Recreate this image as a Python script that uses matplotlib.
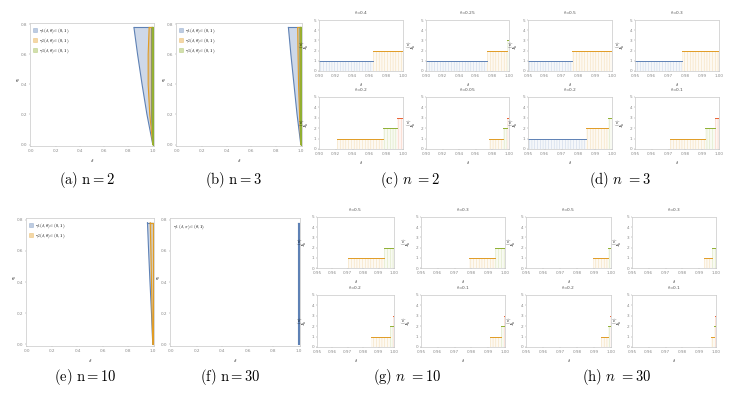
import numpy as np
import matplotlib.pyplot as plt
from matplotlib.patches import Patch

plt.rcParams['mathtext.fontset'] = 'cm'
plt.rcParams['hatch.linewidth'] = 0.3

W, H = 750, 393
BLUE, ORANGE, GREEN, RED = "#5E81B5", "#E19C24", "#8FB032", "#EB6235"
COLS = [BLUE, ORANGE, GREEN, RED]

# region plots (theta values and left/right delta boundaries)
theta_pts = [0.0, 0.2, 0.4, 0.6, 0.78]
a_blue = ([1.0, 0.952, 0.912, 0.875, 0.845], [1.0, 0.99, 0.99, 0.99, 0.99])
a_orange = ([1.0, 0.975, 0.962, 0.962, 0.97], [1.0, 0.995, 0.995, 0.995, 0.995])
a_green = ([1.0, 0.996, 0.996, 0.996, 0.996], [1.0, 1.0, 1.0, 1.0, 1.0])
b_blue = ([1.0, 0.97, 0.945, 0.92, 0.9], [1.0, 0.995, 0.995, 0.995, 0.995])
b_orange = ([1.0, 0.99, 0.982, 0.978, 0.975], [1.0, 0.998, 0.998, 0.998, 0.998])
b_green = ([1.0, 0.997, 0.996, 0.995, 0.995], [1.0, 1.0, 1.0, 1.0, 1.0])
e_blue = ([1.0, 0.99, 0.978, 0.967, 0.958], [1.0, 1.0, 1.0, 1.0, 1.0])
e_orange = ([1.0, 0.995, 0.99, 0.985, 0.98], [1.0, 1.0, 1.0, 1.0, 1.0])
f_blue = ([0.993, 0.993, 0.993, 0.993, 0.993], [1.0, 1.0, 1.0, 1.0, 1.0])

# step plots: theta titles, interval edges, levels, colour index
c_theta = ["0.4", "0.25", "0.2", "0.05"]
c_edges = [[0.90, 0.964, 1.0], [0.90, 0.973, 0.997, 1.0],
           [0.922, 0.976, 0.993, 1.0], [0.976, 0.993, 0.998, 1.0]]
c_levels = [[1, 2], [1, 2, 3], [1, 2, 3], [1, 2, 3]]
c_cols = [[0, 1], [0, 1, 2], [1, 2, 3], [1, 2, 3]]

d_theta = ["0.5", "0.3", "0.2", "0.1"]
d_edges = [[0.95, 0.976, 1.0], [0.95, 0.978, 1.0],
           [0.95, 0.9845, 0.9976, 1.0], [0.9708, 0.9917, 0.9976, 1.0]]
d_levels = [[1, 2], [1, 2], [1, 2, 3], [1, 2, 3]]
d_cols = [[0, 1], [0, 1], [0, 1, 2], [1, 2, 3]]

g_theta = ["0.5", "0.3", "0.2", "0.1"]
g_edges = [[0.97, 0.9935, 1.0], [0.9788, 0.994, 1.0],
           [0.9848, 0.9972, 0.9995, 1.0], [0.9913, 0.9974, 0.9994, 1.0]]
g_levels = [[1, 2], [1, 2], [1, 2, 3], [1, 2, 3]]
g_cols = [[1, 2], [1, 2], [1, 2, 3], [1, 2, 3]]

h_theta = ["0.5", "0.3", "0.2", "0.1"]
h_edges = [[0.9893, 0.998, 1.0], [0.9929, 0.9975, 1.0],
           [0.994, 0.998, 0.9995, 1.0], [0.9969, 0.999, 0.9996, 1.0]]
h_levels = [[1, 2], [1, 2], [1, 2, 3], [1, 2, 3]]
h_cols = [[1, 2], [1, 2], [1, 2, 3], [1, 2, 3]]


def px(l, t, r, b):
    return [l / W, 1 - b / H, (r - l) / W, (b - t) / H]


def frame(ax):
    for s in ax.spines.values():
        s.set_color("#c8c8c8")
        s.set_linewidth(0.5)
    ax.spines['top'].set_linestyle((0, (1, 1)))
    ax.spines['right'].set_linestyle((0, (1, 1)))
    ax.tick_params(labelsize=3, length=1, width=0.3, colors="#888888", pad=1)


def region(ax, bounds, col):
    ax.fill_betweenx(theta_pts, bounds[0], bounds[1], facecolor=col, alpha=0.3, lw=0)
    ax.plot(bounds[0], theta_pts, color=col, lw=0.8)
    ax.plot(bounds[1], theta_pts, color=col, lw=0.8)
    ax.plot([bounds[0][-1], bounds[1][-1]], [theta_pts[-1]] * 2, color=col, lw=0.8)


def big(rect, regs, labels):
    ax = fig.add_axes(px(*rect))
    for bnd, col in regs:
        region(ax, bnd, col)
    ax.set_xlim(-0.01, 1.01)
    ax.set_ylim(-0.01, 0.81)
    ax.set_xticks(np.arange(0, 1.01, 0.2))
    ax.set_yticks(np.arange(0, 0.81, 0.2))
    frame(ax)
    ax.set_xlabel(r"$\delta$", fontsize=3.8, labelpad=3)
    ax.set_ylabel(r"$\theta$", fontsize=3.8, rotation=0, labelpad=1)
    ax.yaxis.set_label_coords(-0.1, 0.5)
    if labels:
        hs = [Patch(facecolor=c, alpha=0.4, edgecolor=c, lw=0.5) for _, c in regs]
        ax.legend(hs, labels, loc="upper left", fontsize=3.3, frameon=False,
                  handlelength=0.8, handleheight=0.8, handletextpad=0.4,
                  labelspacing=0.2, borderaxespad=0.3)
    return ax


def steps(rect, title, edges, levels, cols, xt, xl):
    ax = fig.add_axes(px(*rect))
    for i in range(len(levels)):
        x0, x1, lv, c = edges[i], edges[i + 1], levels[i], COLS[cols[i]]
        ax.fill_between([x0, x1], 0, lv, facecolor="none", edgecolor=c,
                        alpha=0.35, hatch="||||||", lw=0)
        ax.fill_between([x0, x1], 0, lv, facecolor=c, alpha=0.06, lw=0)
        ax.plot([x0, x1], [lv, lv], color=c, lw=0.7)
    ax.set_xlim(*xl)
    ax.set_ylim(0, 5)
    ax.set_xticks(xt)
    ax.set_xticklabels([f"{v:.2f}" for v in xt])
    ax.set_yticks(range(6))
    frame(ax)
    ax.set_title(r"$\theta$=" + title, fontsize=3.2, pad=4, color="#555555")
    ax.set_xlabel(r"$\delta$", fontsize=3.2, labelpad=2)
    ax.set_ylabel(r"$I_k^{(n)}$", fontsize=3.8, labelpad=1)
    ax.yaxis.set_label_coords(-0.1, 0.5)
    return ax


fig = plt.figure(figsize=(7.5, 3.93), dpi=100)

gam = [r"$\gamma_1(\delta,\theta)\in(0,1)$", r"$\gamma_2(\delta,\theta)\in(0,1)$",
       r"$\gamma_3(\delta,\theta)\in(0,1)$"]
big((30, 23, 154, 146), [(a_blue, BLUE), (a_orange, ORANGE), (a_green, GREEN)], gam)
big((176, 23, 302, 146), [(b_blue, BLUE), (b_orange, ORANGE), (b_green, GREEN)], gam)
big((26, 218, 154, 346), [(e_blue, BLUE), (e_orange, ORANGE)], gam[:2])
axf = big((170, 218, 300, 346), [(f_blue, BLUE)], None)
axf.text(0.02, 0.97, r"$\gamma_1\ (\delta,\pi)\in(\theta,1)$", transform=axf.transAxes,
         fontsize=3.3, va="top")

xc = np.arange(0.90, 1.001, 0.02)
xd = np.arange(0.95, 1.001, 0.01)
top_cols = [(319, 403), (426, 509), (528, 612), (635, 719)]
bot_cols = [(317, 394), (421, 505), (526, 611), (632, 716)]
top_rows = [(20, 71), (97, 149)]
bot_rows = [(217, 268), (295, 347)]

sets = [(c_theta, c_edges, c_levels, c_cols, xc, (0.90, 1.0), top_cols[:2], top_rows),
        (d_theta, d_edges, d_levels, d_cols, xd, (0.95, 1.0), top_cols[2:], top_rows),
        (g_theta, g_edges, g_levels, g_cols, xd, (0.95, 1.0), bot_cols[:2], bot_rows),
        (h_theta, h_edges, h_levels, h_cols, xd, (0.95, 1.0), bot_cols[2:], bot_rows)]
for th, ed, lv, cl, xt, xl, colx, rows in sets:
    for k in range(4):
        l, r = colx[k % 2]
        t, b = rows[k // 2]
        steps((l, t, r, b), th[k], ed[k], lv[k], cl[k], xt, xl)

caps = [(87, 180, r"$\mathrm{(a)\ n{=}2}$"), (233, 180, r"$\mathrm{(b)\ n{=}3}$"),
        (410, 180, r"$\mathrm{(c)}\ n\ \mathrm{=}2$"), (620, 180, r"$\mathrm{(d)}\ n\ \mathrm{=}3$"),
        (85, 377, r"$\mathrm{(e)\ n{=}10}$"), (230, 377, r"$\mathrm{(f)\ n{=}30}$"),
        (407, 377, r"$\mathrm{(g)}\ n\ \mathrm{=}10$"), (617, 377, r"$\mathrm{(h)}\ n\ \mathrm{=}30$")]
for x, y, s in caps:
    fig.text(x / W, 1 - y / H, s, fontsize=10.5, ha="center", va="center")

fig.savefig("out.png", dpi=100)
